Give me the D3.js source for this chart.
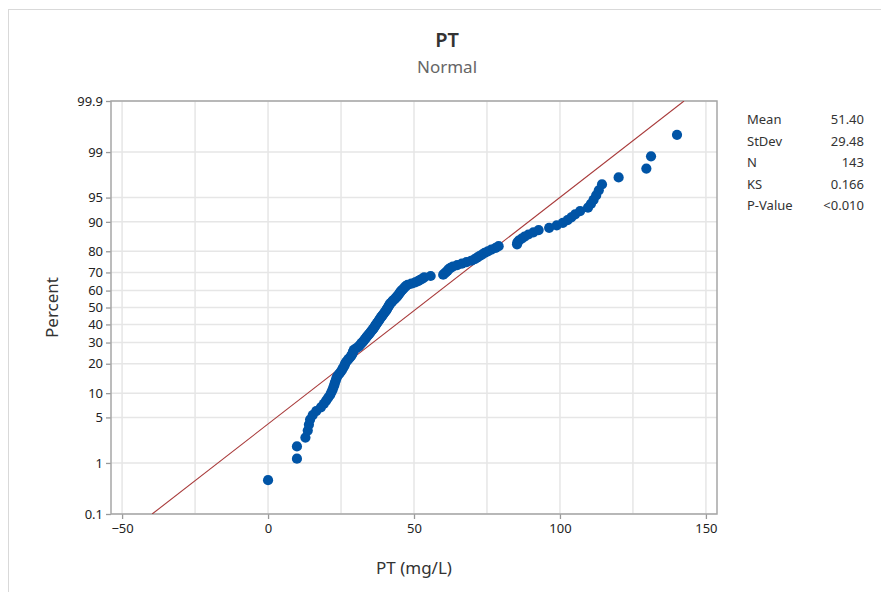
<!DOCTYPE html>
<html>
<head>
<meta charset="utf-8">
<script src="https://cdn.jsdelivr.net/npm/d3@7"></script>
<style>
  body { margin: 0; background: #fff; }
  text { font-family: "Noto Sans", "Open Sans", sans-serif; }
</style>
</head>
<body>
<div id="chart"></div>
<script>
// sorted PT values (mg/L)
const ptValues = [
  0.0, 9.9, 9.9, 12.8, 13.6, 14.0, 14.4, 15.3, 16.5, 18.1,
  19.1, 19.9, 20.6, 21.3, 21.7, 22.1, 22.4, 22.7, 22.9, 23.2,
  23.4, 23.7, 24.2, 24.7, 25.2, 25.5, 25.9, 26.2, 26.4, 26.7,
  27.2, 27.6, 28.1, 28.5, 28.8, 29.0, 29.2, 29.4, 30.1, 30.8,
  31.3, 31.7, 32.1, 32.5, 32.9, 33.2, 33.6, 33.9, 34.3, 34.7,
  35.0, 35.3, 35.7, 36.0, 36.3, 36.6, 36.8, 37.1, 37.4, 37.7,
  38.0, 38.2, 38.5, 38.8, 39.1, 39.4, 39.7, 40.0, 40.3, 40.6,
  40.8, 41.0, 41.3, 41.5, 41.7, 42.1, 42.5, 42.8, 43.3, 43.7,
  44.1, 44.4, 44.7, 45.0, 45.3, 45.6, 46.0, 46.4, 46.8, 47.2,
  47.8, 49.1, 50.4, 51.4, 52.1, 52.9, 53.5, 55.7, 60.0, 60.5,
  61.0, 61.5, 61.8, 62.5, 63.3, 64.8, 66.4, 68.0, 69.6, 70.8,
  71.6, 72.4, 73.3, 74.2, 75.3, 76.5, 78.0, 79.0, 85.3, 85.4,
  85.9, 86.9, 87.9, 89.2, 90.9, 92.7, 96.3, 98.9, 101.0, 102.6,
  103.9, 105.2, 106.9, 109.6, 110.6, 111.5, 112.4, 113.3, 114.4, 120.1,
  129.6, 131.2, 140.1
];
const fitMean = 51.40;
const fitStDev = 29.48;

const yTickPct = [0.1, 1, 5, 10, 20, 30, 40, 50, 60, 70, 80, 90, 95, 99, 99.9];
const xTickLabels = [-50, 0, 50, 100, 150];
const xGridVals = [-50, -25, 0, 25, 50, 75, 100, 125, 150];

const statLabels = ["Mean", "StDev", "N", "KS", "P-Value"];
const statValues = ["51.40", "29.48", "143", "0.166", "<0.010"];

// inverse standard normal cdf (Acklam)
function probit(p) {
  const a = [-39.69683028665376, 220.9460984245205, -275.9285104469687, 138.3577518672690, -30.66479806614716, 2.506628277459239];
  const b = [-54.47609879822406, 161.5858368580409, -155.6989798598866, 66.80131188771972, -13.28068155288572];
  const c = [-0.007784894002430293, -0.3223964580411365, -2.400758277161838, -2.549732539343734, 4.374664141464968, 2.938163982698783];
  const d = [0.007784695709041462, 0.3224671290700398, 2.445134137142996, 3.754408661907416];
  const pl = 0.02425;
  let q, r;
  if (p < pl) {
    q = Math.sqrt(-2 * Math.log(p));
    return (((((c[0]*q+c[1])*q+c[2])*q+c[3])*q+c[4])*q+c[5]) / ((((d[0]*q+d[1])*q+d[2])*q+d[3])*q+1);
  } else if (p <= 1 - pl) {
    q = p - 0.5; r = q * q;
    return (((((a[0]*r+a[1])*r+a[2])*r+a[3])*r+a[4])*r+a[5])*q / (((((b[0]*r+b[1])*r+b[2])*r+b[3])*r+b[4])*r+1);
  } else {
    q = Math.sqrt(-2 * Math.log(1 - p));
    return -(((((c[0]*q+c[1])*q+c[2])*q+c[3])*q+c[4])*q+c[5]) / ((((d[0]*q+d[1])*q+d[2])*q+d[3])*q+1);
  }
}

const W = 881, H = 592;
const L = 111, R = 717, T = 101, B = 514;

const svg = d3.select("#chart").append("svg").attr("width", W).attr("height", H);

// outer window frame
svg.append("rect").attr("x", 8.5).attr("y", 9.5).attr("width", W).attr("height", H)
  .attr("fill", "none").attr("stroke", "#d9d9d9");

const zMax = probit(0.999);
const x = d3.scaleLinear().domain([-53.8, 153.8]).range([L, R]);
const y = d3.scaleLinear().domain([-zMax, zMax]).range([B, T]);

// grid
svg.append("g").selectAll("line").data(xGridVals).enter().append("line")
  .attr("x1", d => x(d)).attr("x2", d => x(d)).attr("y1", T).attr("y2", B)
  .attr("stroke", "#e6e6e6").attr("stroke-width", 1.5);
svg.append("g").selectAll("line").data(yTickPct).enter().append("line")
  .attr("x1", L).attr("x2", R).attr("y1", d => y(probit(d / 100))).attr("y2", d => y(probit(d / 100)))
  .attr("stroke", "#e6e6e6").attr("stroke-width", 1.5);

// axes
const xAxis = d3.axisBottom(x).tickValues(xTickLabels).tickSize(5).tickPadding(5).tickFormat(d3.format("d"));
const gx = svg.append("g").attr("transform", `translate(0,${B})`).call(xAxis);
const yAxis = d3.axisLeft(y).tickValues(yTickPct.map(p => probit(p / 100))).tickSize(5).tickPadding(3)
  .tickFormat((d, i) => yTickPct[i]);
const gy = svg.append("g").attr("transform", `translate(${L},0)`).call(yAxis);
[gx, gy].forEach(g => {
  g.select(".domain").remove();
  g.selectAll(".tick line").attr("stroke", "#999").attr("stroke-width", 1.3);
  g.selectAll(".tick text").attr("fill", "#222").style("font-size", "13px");
});

// plot frame
svg.append("rect").attr("x", L).attr("y", T).attr("width", R - L).attr("height", B - T)
  .attr("fill", "none").attr("stroke", "#a6a6a6").attr("stroke-width", 1.5);

// fitted line
svg.append("clipPath").attr("id", "clip").append("rect")
  .attr("x", L).attr("y", T).attr("width", R - L).attr("height", B - T);
svg.append("line").attr("clip-path", "url(#clip)")
  .attr("x1", x(fitMean - zMax * fitStDev)).attr("y1", y(-zMax))
  .attr("x2", x(fitMean + zMax * fitStDev)).attr("y2", y(zMax))
  .attr("stroke", "#a83a3a").attr("stroke-width", 1.1);

// points (median ranks)
const n = ptValues.length;
svg.append("g").selectAll("circle").data(ptValues).enter().append("circle")
  .attr("cx", d => x(d))
  .attr("cy", (d, i) => y(probit((i + 1 - 0.3) / (n + 0.4))))
  .attr("r", 5.1)
  .attr("fill", "#0054a6");

// titles
svg.append("text").attr("x", 447).attr("y", 47).attr("text-anchor", "middle")
  .style("font-size", "20px").style("font-weight", "600").attr("fill", "#333").text("PT");
svg.append("text").attr("x", 447).attr("y", 73).attr("text-anchor", "middle")
  .style("font-size", "17px").attr("fill", "#666").text("Normal");
svg.append("text").attr("x", (L + R) / 2).attr("y", 574).attr("text-anchor", "middle")
  .style("font-size", "17px").attr("fill", "#333").text("PT (mg/L)");
svg.append("text").attr("transform", `translate(58,${(T + B) / 2}) rotate(-90)`).attr("text-anchor", "middle")
  .style("font-size", "17px").attr("fill", "#333").text("Percent");

// stats table
const stats = svg.append("g");
statLabels.forEach((lab, i) => {
  stats.append("text").attr("x", 747).attr("y", 124 + i * 21.5)
    .style("font-size", "13px").attr("fill", "#333").text(lab);
  stats.append("text").attr("x", 864).attr("y", 124 + i * 21.5).attr("text-anchor", "end")
    .style("font-size", "13px").attr("fill", "#333").text(statValues[i]);
});
</script>
</body>
</html>
